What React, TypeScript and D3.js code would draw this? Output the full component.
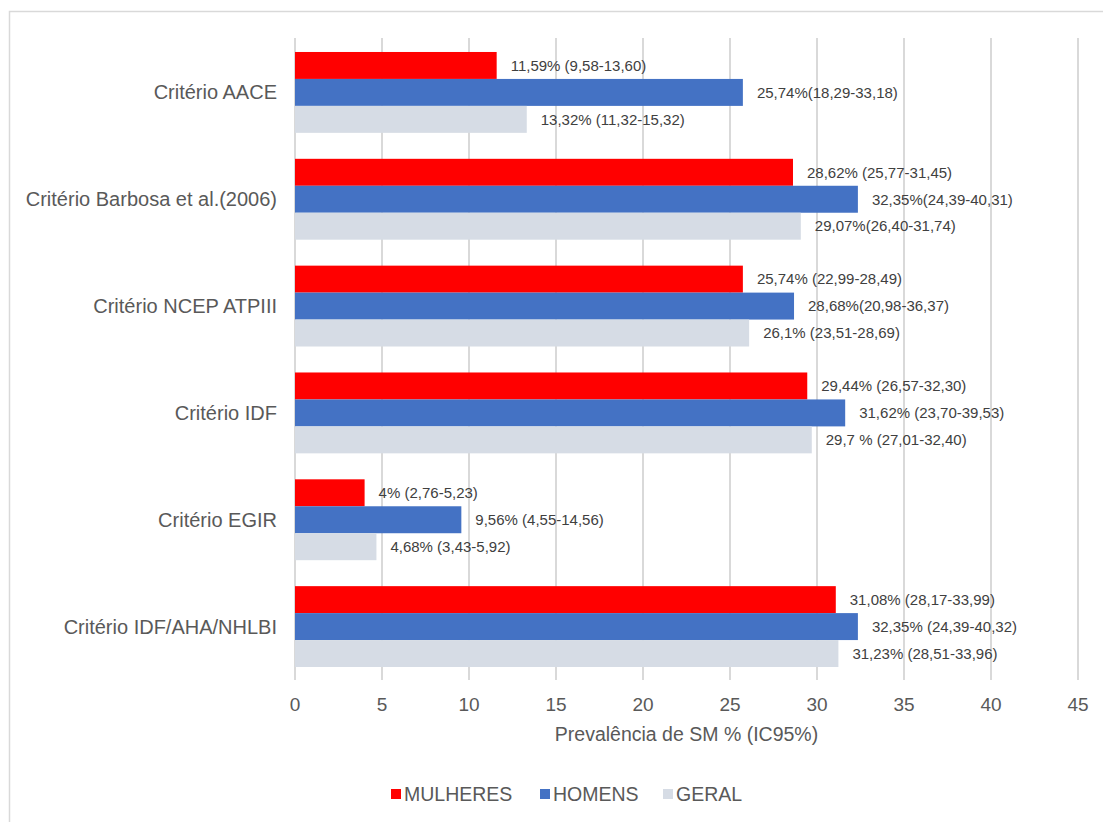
import { useEffect, useRef } from 'react';
import * as d3 from 'd3';

const categories = [
  'Critério AACE',
  'Critério Barbosa et al.(2006)',
  'Critério NCEP ATPIII',
  'Critério IDF',
  'Critério EGIR',
  'Critério IDF/AHA/NHLBI',
];

const seriesNames = ['MULHERES', 'HOMENS', 'GERAL'];
const seriesColors = ['#FF0000', '#4472C4', '#D6DCE5'];

const mulheres = [11.59, 28.62, 25.74, 29.44, 4, 31.08];
const homens = [25.74, 32.35, 28.68, 31.62, 9.56, 32.35];
const geral = [13.32, 29.07, 26.1, 29.7, 4.68, 31.23];

const mulheresLabels = [
  '11,59% (9,58-13,60)',
  '28,62% (25,77-31,45)',
  '25,74% (22,99-28,49)',
  '29,44% (26,57-32,30)',
  '4% (2,76-5,23)',
  '31,08% (28,17-33,99)',
];
const homensLabels = [
  '25,74%(18,29-33,18)',
  '32,35%(24,39-40,31)',
  '28,68%(20,98-36,37)',
  '31,62% (23,70-39,53)',
  '9,56% (4,55-14,56)',
  '32,35% (24,39-40,32)',
];
const geralLabels = [
  '13,32% (11,32-15,32)',
  '29,07%(26,40-31,74)',
  '26,1% (23,51-28,69)',
  '29,7 % (27,01-32,40)',
  '4,68% (3,43-5,92)',
  '31,23% (28,51-33,96)',
];

const xTicks = [0, 5, 10, 15, 20, 25, 30, 35, 40, 45];
const axisTitle = 'Prevalência de SM % (IC95%)';

export default function App() {
  const svgRef = useRef<SVGSVGElement>(null);

  useEffect(() => {
    if (!svgRef.current) return;
    const W = 1103;
    const H = 822;
    const font = '"Liberation Sans", Arial, sans-serif';

    const svg = d3.select(svgRef.current);
    svg.selectAll('*').remove();
    svg.attr('width', W).attr('height', H).attr('viewBox', `0 0 ${W} ${H}`);

    svg.append('rect').attr('width', W).attr('height', H).attr('fill', '#fff');

    // outer frame (only top and left visible in reference)
    svg.append('path')
      .attr('d', `M9.5,${H} L9.5,11.5 L${W},11.5`)
      .attr('fill', 'none')
      .attr('stroke', '#d9d9d9')
      .attr('stroke-width', 1.5);

    const x = d3.scaleLinear().domain([0, 45]).range([295, 1078]);
    const y = d3
      .scaleBand()
      .domain(categories)
      .range([39, 680])
      .paddingInner(0.243)
      .paddingOuter(0.1215);
    const inner = d3.scaleBand().domain(seriesNames).range([0, y.bandwidth()]);

    // gridlines
    svg.append('g')
      .selectAll('line')
      .data(xTicks)
      .join('line')
      .attr('x1', (d) => x(d))
      .attr('x2', (d) => x(d))
      .attr('y1', 38)
      .attr('y2', 680)
      .attr('stroke', '#d9d9d9')
      .attr('stroke-width', 2);

    // tick labels
    svg.append('g')
      .selectAll('text')
      .data(xTicks)
      .join('text')
      .attr('x', (d) => x(d))
      .attr('y', 711)
      .attr('text-anchor', 'middle')
      .attr('font-family', font)
      .attr('font-size', '19px')
      .attr('fill', '#595959')
      .text((d) => d);

    svg.append('text')
      .attr('x', (295 + 1078) / 2)
      .attr('y', 741)
      .attr('text-anchor', 'middle')
      .attr('font-family', font)
      .attr('font-size', '19.5px')
      .attr('fill', '#595959')
      .text(axisTitle);

    // category labels
    svg.append('g')
      .selectAll('text')
      .data(categories)
      .join('text')
      .attr('x', 277)
      .attr('y', (d) => (y(d) ?? 0) + y.bandwidth() / 2)
      .attr('dy', '0.35em')
      .attr('text-anchor', 'end')
      .attr('font-family', font)
      .attr('font-size', '20px')
      .attr('fill', '#595959')
      .text((d) => d);

    const series = [
      { name: seriesNames[0], color: seriesColors[0], values: mulheres, labels: mulheresLabels },
      { name: seriesNames[1], color: seriesColors[1], values: homens, labels: homensLabels },
      { name: seriesNames[2], color: seriesColors[2], values: geral, labels: geralLabels },
    ];

    series.forEach((s) => {
      const rows = categories.map((c, i) => ({ c, v: s.values[i], label: s.labels[i] }));
      const g = svg.append('g');
      g.selectAll('rect')
        .data(rows)
        .join('rect')
        .attr('x', x(0))
        .attr('y', (d) => (y(d.c) ?? 0) + (inner(s.name) ?? 0))
        .attr('width', (d) => x(d.v) - x(0))
        .attr('height', inner.bandwidth())
        .attr('fill', s.color);
      g.selectAll('text')
        .data(rows)
        .join('text')
        .attr('x', (d) => x(d.v) + 14)
        .attr('y', (d) => (y(d.c) ?? 0) + (inner(s.name) ?? 0) + inner.bandwidth() / 2)
        .attr('dy', '0.35em')
        .attr('font-family', font)
        .attr('font-size', '15px')
        .attr('fill', '#404040')
        .text((d) => d.label);
    });

    // legend
    const legendX = [391, 540, 663];
    const lg = svg.append('g');
    series.forEach((s, i) => {
      lg.append('rect')
        .attr('x', legendX[i])
        .attr('y', 789)
        .attr('width', 10)
        .attr('height', 10)
        .attr('fill', s.color);
      lg.append('text')
        .attr('x', legendX[i] + 13)
        .attr('y', 801)
        .attr('font-family', font)
        .attr('font-size', '19.5px')
        .attr('fill', '#595959')
        .text(s.name);
    });
  }, []);

  return (
    <svg
      ref={svgRef}
      style={{ position: 'absolute', left: 0, top: 0, display: 'block' }}
    />
  );
}
